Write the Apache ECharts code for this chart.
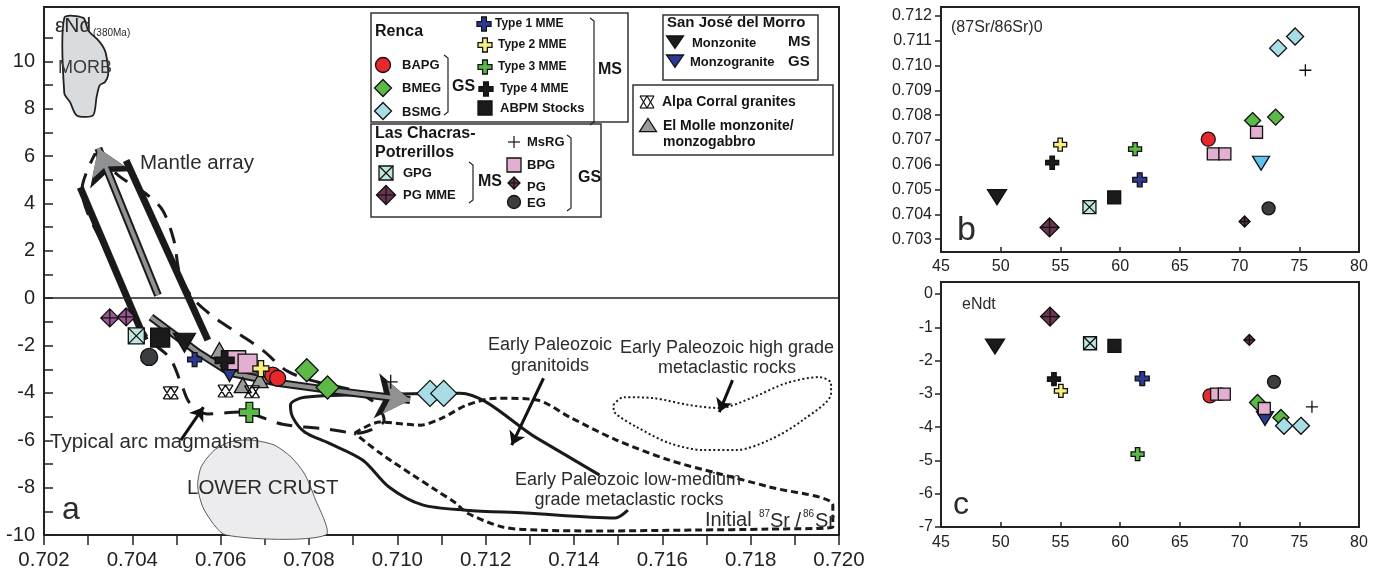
<!DOCTYPE html>
<html>
<head>
<meta charset="utf-8">
<script src="https://cdn.jsdelivr.net/npm/echarts@6/dist/echarts.min.js"></script>
<style>
html, body { margin: 0; padding: 0; background: #fff; }
#chart { width: 1380px; height: 577px; }
</style>
</head>
<body>
<div id="chart"></div>
<script>
var FONT = '"Liberation Sans", Arial, Helvetica, sans-serif';

// ---- tick labels
var xTicksA = [0.702, 0.703, 0.704, 0.705, 0.706, 0.707, 0.708, 0.709, 0.710, 0.711, 0.712, 0.713, 0.714, 0.715, 0.716, 0.717, 0.718, 0.719, 0.720];
var xLabelsA = [0.702, 0.704, 0.706, 0.708, 0.710, 0.712, 0.714, 0.716, 0.718, 0.720];
var yTicksA = [-10, -9, -8, -7, -6, -5, -4, -3, -2, -1, 0, 1, 2, 3, 4, 5, 6, 7, 8, 9, 10, 11];
var yLabelsA = [-10, -8, -6, -4, -2, 0, 2, 4, 6, 8, 10];
var xTicksBC = [45, 50, 55, 60, 65, 70, 75, 80];
var yTicksB = [0.703, 0.704, 0.705, 0.706, 0.707, 0.708, 0.709, 0.710, 0.711, 0.712];
var yTicksC = [-7, -6, -5, -4, -3, -2, -1, 0];

// ---- panel a : initial 87Sr/86Sr vs eNd(380Ma)
var bapgA = [[0.70718, -3.25], [0.70729, -3.38]];
var bmegA = [[0.70795, -3.04], [0.70842, -3.77]];
var bsmgA = [[0.71074, -4.02], [0.71105, -4.02]];
var type1A = [[0.70541, -2.59]];
var type2A = [[0.70691, -2.97]];
var type3A = [[0.70665, -4.82]];
var type4A = [[0.70609, -2.62]];
var abpmA = [[0.70463, -1.66]];
var gpgA = [[0.70409, -1.59]];
var pgmmeA = [[0.70349, -0.83], [0.70386, -0.79]];
var msrgA = [[0.70985, -3.53]];
var bpgA = [[0.70635, -2.62], [0.70661, -2.76]];
var pgA = [];
var egA = [[0.70438, -2.48]];
var monzoniteA = [[0.70518, -1.88]];
var monzograniteA = [[0.7062, -3.18]];
var alpaA = [[0.70487, -4.0], [0.70611, -3.92], [0.70671, -3.95]];
var elmolleA = [[0.70597, -2.19], [0.7065, -3.67], [0.70688, -3.46]];

// ---- panel b : SiO2 vs (87Sr/86Sr)0
var bapgB = [[67.38, 0.70703]];
var bmegB = [[71.09, 0.70778], [73.02, 0.70792]];
var bsmgB = [[73.23, 0.7107], [74.65, 0.71117]];
var type1B = [[61.64, 0.70539]];
var type2B = [[54.98, 0.70681]];
var type3B = [[61.25, 0.70663]];
var type4B = [[54.31, 0.70608]];
var abpmB = [[59.5, 0.70468]];
var gpgB = [[57.43, 0.70429]];
var pgmmeB = [[54.09, 0.70347]];
var msrgB = [[75.51, 0.70981]];
var bpgB = [[67.8, 0.70644], [68.77, 0.70644], [71.42, 0.70731]];
var pgB = [[70.42, 0.70371]];
var egB = [[72.43, 0.70424]];
var monzoniteB = [[49.69, 0.70469]];
var monzograniteB = [[71.8, 0.70606]];

// ---- panel c : SiO2 vs eNdt
var bapgC = [[67.52, -3.06]];
var bmegC = [[71.5, -3.26], [73.46, -3.71]];
var bsmgC = [[73.72, -3.96], [75.14, -3.96]];
var type1C = [[61.85, -2.54]];
var type2C = [[55.04, -2.91]];
var type3C = [[61.46, -4.81]];
var type4C = [[54.46, -2.56]];
var abpmC = [[59.52, -1.56]];
var gpgC = [[57.48, -1.48]];
var pgmmeC = [[54.13, -0.68]];
var msrgC = [[76.06, -3.39]];
var bpgC = [[68.08, -3.01], [68.72, -3.01], [72.07, -3.44]];
var pgC = [[70.82, -1.38]];
var egC = [[72.88, -2.64]];
var monzoniteC = [[49.52, -1.58]];
var monzograniteC = [[72.13, -3.74]];

// ---- fields and trends drawn in panel a (Sr ratio, eNd)
var morbField = [[0.70246, 11.84], [0.70289, 11.84], [0.703, 11.31], [0.70323, 10.89], [0.70338, 10.46], [0.70344, 9.9], [0.70345, 9.41], [0.70338, 9.13], [0.70326, 8.99], [0.70319, 8.49], [0.70311, 7.72], [0.70274, 7.72], [0.70259, 8.28], [0.70246, 8.65]];
var lowerCrust = [[0.70612, -10], [0.70563, -8.95], [0.70548, -7.96], [0.70556, -7.12], [0.70586, -6.41], [0.70623, -6.06], [0.70669, -5.99], [0.70721, -6.2], [0.70759, -6.7], [0.70789, -7.39], [0.70812, -8.38], [0.70838, -10]];
var arcField = [[0.70316, 6.12], [0.70368, 5.19], [0.70435, 4.35], [0.70469, 3.71], [0.70494, 2.45], [0.70508, 0.97], [0.70537, 0], [0.70582, -0.76], [0.70639, -1.48], [0.70695, -2.19], [0.70751, -3.08], [0.70819, -3.54], [0.70903, -3.92], [0.70955, -4.51], [0.7097, -5.15], [0.70909, -5.7], [0.70842, -5.53], [0.7074, -5.32], [0.70645, -4.81], [0.70571, -4.89], [0.7053, -4.43], [0.70512, -3.67], [0.70485, -2.53], [0.70432, -1.6], [0.70355, 1.5], [0.70286, 4.6], [0.70316, 6.12]];
var granitoidField = [[0.71458, -7.47], [0.71316, -5.91], [0.71142, -4.01], [0.70997, -4.05], [0.7079, -4.18], [0.70758, -4.51], [0.70763, -5.02], [0.7079, -5.65], [0.70845, -6.12], [0.70922, -6.84], [0.70981, -7.97], [0.71057, -8.73], [0.71155, -8.95], [0.7129, -9.07], [0.71493, -9.28], [0.71522, -8.95]];
var lowGradeField = [[0.70903, -5.7], [0.70961, -5.23], [0.71052, -5.36], [0.71101, -5.06], [0.71158, -4.51], [0.71225, -4.22], [0.71316, -4.3], [0.7139, -5.02], [0.71496, -5.99], [0.71616, -6.84], [0.71722, -7.38], [0.71842, -7.97], [0.71986, -8.73], [0.71986, -9.66], [0.71842, -9.75], [0.71674, -9.79], [0.71451, -9.83], [0.71316, -9.79], [0.71238, -9.66], [0.71158, -9.07], [0.71132, -8.65], [0.71087, -8.1], [0.71035, -7.47], [0.70961, -6.54], [0.70903, -5.7]];
var highGradeField = [[0.71489, -4.51], [0.71512, -4.18], [0.7158, -4.22], [0.71661, -4.51], [0.71729, -4.64], [0.71806, -4.18], [0.7188, -3.59], [0.71955, -3.33], [0.71982, -3.59], [0.71982, -4.01], [0.71918, -5.15], [0.71842, -5.99], [0.71767, -6.41], [0.71693, -6.41], [0.71616, -6.12], [0.71542, -5.44], [0.71493, -4.85], [0.71489, -4.51]];
var mantleLeft = [[0.70282, 4.68], [0.70429, -1.77]];
var mantleRight = [[0.70386, 5.82], [0.70571, -1.77]];
var mantleArrow = [[0.70458, 0.13], [0.70323, 6.33]];
var crustArrow = [[0.70442, -0.8], [0.70548, -2.28], [0.70623, -3.16], [0.70736, -3.59], [0.70848, -3.88], [0.71029, -4.3]];
var arcPointer = [[0.7051, -5.99], [0.70561, -4.6]];
var granitoidPointer = [[0.71331, -3.38], [0.71259, -6.2]];
var highGradePointer = [[0.71759, -3.46], [0.71729, -4.81]];

// symbol outlines, unit box 100
var P = {
    circle: 'M50,0A50,50,0,1,1,49.99,0Z',
    diamond: 'M50,0L100,50L50,100L0,50Z',
    square: 'M0,0H100V100H0Z',
    cross: 'M33,0H67V33H100V67H67V100H33V67H0V33H33Z',
    triDown: 'M0,0H100L50,88Z',
    triUp: 'M50,0L100,88H0Z',
    sqx: 'M0,0H100V100H0Z M0,0L100,100 M100,0L0,100',
    diaPlus: 'M50,0L100,50L50,100L0,50Z M50,0V100 M0,50H100',
    plus: 'M50,0V100 M0,50H100',
    hour: 'M0,0H100M0,100H100M0,0L50,100M50,0L0,100M50,0L100,100M100,0L50,100'
};

var kinds = [
    { path: P.triUp, fill: '#9a9b9d', a: elmolleA, sa: [17, 15] },
    { path: P.hour, fill: '#ffffff', a: alpaA, sa: [15, 12] },
    { path: P.triDown, fill: '#1b1b1d', a: monzoniteA, b: monzoniteB, c: monzoniteC, sa: [22, 19], sb: [19, 15] },
    { path: P.diamond, fill: '#5cb847', a: bmegA, b: bmegB, c: bmegC, sa: 23, sb: 16 },
    { path: P.triDown, fill: '#2d3a94', fillB: '#5fc3ee', a: monzograniteA, b: monzograniteB, c: monzograniteC, sa: [18, 16], sb: [17, 14] },
    { path: P.circle, fill: '#e8282a', a: bapgA, b: bapgB, c: bapgC, sa: 16, sb: 14 },
    { path: P.square, fill: '#e3afd1', a: bpgA, b: bpgB, c: bpgC, sa: 19, sb: 12 },
    { path: P.diaPlus, fill: '#6b3452', a: pgA, b: pgB, c: pgC, sa: 12, sb: 11 },
    { path: P.circle, fill: '#3b3e41', a: egA, b: egB, c: egC, sa: 17, sb: 13 },
    { path: P.sqx, fill: '#bfe7e0', a: gpgA, b: gpgB, c: gpgC, sa: 16, sb: 13 },
    { path: P.diaPlus, fill: '#6b3452', fillA: '#9d5595', a: pgmmeA, b: pgmmeB, c: pgmmeC, sa: 18, sb: 19 },
    { path: P.square, fill: '#1b1b1d', a: abpmA, b: abpmB, c: abpmC, sa: 19, sb: 13 },
    { path: P.cross, fill: '#1b1b1d', a: type4A, b: type4B, c: type4C, sa: 19, sb: 13 },
    { path: P.cross, fill: '#2d3a94', a: type1A, b: type1B, c: type1C, sa: 14, sb: 14 },
    { path: P.cross, fill: '#f7f07e', a: type2A, b: type2B, c: type2C, sa: 16, sb: 13 },
    { path: P.cross, fill: '#5cb847', a: type3A, b: type3B, c: type3C, sa: 20, sb: 13 },
    { path: P.diamond, fill: '#a8dde5', a: bsmgA, b: bsmgB, c: bsmgC, sa: 26, sb: 17 },
    { path: P.plus, fill: '#111111', a: msrgA, b: msrgB, c: msrgC, sa: 14, sb: 12 }
];

function scatter(k, data, grid, size, fill) {
    return {
        type: 'scatter', xAxisIndex: grid, yAxisIndex: grid, data: data,
        symbol: 'path://' + k.path, symbolSize: size, z: 6, silent: true,
        itemStyle: { color: fill, borderColor: '#111', borderWidth: 1.3, opacity: 1 }
    };
}

function outline(data, width, type, smooth, z) {
    return {
        type: 'line', xAxisIndex: 0, yAxisIndex: 0, data: data, symbol: 'none', smooth: smooth, z: z || 3,
        silent: true, lineStyle: { color: '#1a1a1a', width: width, type: type }
    };
}

function field(data, fill, stroke, width) {
    return {
        type: 'custom', xAxisIndex: 0, yAxisIndex: 0, data: [0], z: 1, silent: true,
        renderItem: function (params, api) {
            var pts = data.map(function (p) { return api.coord(p); });
            return { type: 'polygon', shape: { points: pts, smooth: 0.25 }, style: { fill: fill, stroke: stroke, lineWidth: width } };
        }
    };
}

function arrows(list, color, width, size, z) {
    return {
        type: 'lines', coordinateSystem: 'cartesian2d', xAxisIndex: 0, yAxisIndex: 0, z: z, silent: true,
        symbol: ['none', 'arrow'], symbolSize: size,
        lineStyle: { color: color, width: width, opacity: 1, curveness: 0 },
        data: list.map(function (c) { return { coords: c }; })
    };
}

var crustHead = crustArrow.slice(crustArrow.length - 2);
var crustShaft = crustArrow.slice(0, crustArrow.length - 1);

var series = [
    field(morbField, '#d9dcde', '#222', 1.8),
    field(lowerCrust, '#ececee', '#333', 0.8),
    outline(arcField, 3, [16, 11], 0.3),
    outline(granitoidField, 3, 'solid', 0.3),
    outline(lowGradeField, 3, [7, 4], 0.3),
    outline(highGradeField, 2, [2, 2.5], 0.3),
    {
        type: 'line', xAxisIndex: 0, yAxisIndex: 0, data: mantleLeft, symbol: 'none', z: 4, silent: true,
        lineStyle: { color: '#1a1a1a', width: 7 },
        markLine: {
            silent: true, symbol: 'none', label: { show: false },
            lineStyle: { color: '#222', width: 1.5, type: 'solid' },
            data: [{ xAxis: 0.7047 }, { yAxis: 0 }]
        }
    },
    outline(mantleRight, 7, 'solid', false, 4),
    outline(crustShaft, 8, 'solid', false, 4),
    {
        type: 'line', xAxisIndex: 0, yAxisIndex: 0, data: crustShaft, symbol: 'none', z: 5, silent: true,
        lineStyle: { color: '#8f9193', width: 4 }
    },
    arrows([mantleArrow, crustHead], '#1a1a1a', 8, 34, 4),
    arrows([mantleArrow, crustHead], '#8f9193', 4, 26, 5),
    arrows([arcPointer, granitoidPointer, highGradePointer], '#111', 3, 13, 4)
];

kinds.forEach(function (k) {
    if (k.a && k.a.length) series.push(scatter(k, k.a, 0, k.sa, k.fillA || k.fill));
    if (k.b) series.push(scatter(k, k.b, 1, k.sb, k.fillB || k.fill));
    if (k.c) series.push(scatter(k, k.c, 2, k.sb, k.fill));
});

// ---- legend boxes and annotations
function txt(s, x, y, size, bold, align, color) {
    return {
        type: 'text', x: x, y: y, z: 101, silent: true,
        style: {
            text: s, font: (bold ? 'bold ' : '') + size + 'px ' + FONT, fill: color || '#151515',
            align: align || 'left', verticalAlign: 'middle', textAlign: align || 'left', textVerticalAlign: 'middle'
        }
    };
}
// legend marker built from primitive graphic shapes (unit box 0..1)
var UNIT = {
    diamond: [[0.5, 0], [1, 0.5], [0.5, 1], [0, 0.5]],
    square: [[0, 0], [1, 0], [1, 1], [0, 1]],
    cross: [[0.33, 0], [0.67, 0], [0.67, 0.33], [1, 0.33], [1, 0.67], [0.67, 0.67], [0.67, 1], [0.33, 1], [0.33, 0.67], [0, 0.67], [0, 0.33], [0.33, 0.33]],
    triDown: [[0, 0], [1, 0], [0.5, 0.88]],
    triUp: [[0.5, 0], [1, 0.88], [0, 0.88]]
};
function sym(kind, fill, cx, cy, w, h) {
    var x0 = cx - w / 2, y0 = cy - h / 2;
    var st = { fill: fill, stroke: '#111', lineWidth: 1.3 };
    function map(list) { return list.map(function (p) { return [x0 + p[0] * w, y0 + p[1] * h]; }); }
    function seg(a, b) { return { type: 'line', z: 102, silent: true, shape: { x1: x0 + a[0] * w, y1: y0 + a[1] * h, x2: x0 + b[0] * w, y2: y0 + b[1] * h }, style: { stroke: '#111', lineWidth: 1.2 } }; }
    var out = [];
    if (kind === 'circle') out.push({ type: 'circle', z: 101, silent: true, shape: { cx: cx, cy: cy, r: w / 2 }, style: st });
    if (UNIT[kind]) out.push({ type: 'polygon', z: 101, silent: true, shape: { points: map(UNIT[kind]) }, style: st });
    if (kind === 'sqx') {
        out.push({ type: 'polygon', z: 101, silent: true, shape: { points: map(UNIT.square) }, style: st });
        out.push(seg([0, 0], [1, 1]), seg([1, 0], [0, 1]));
    }
    if (kind === 'diaPlus') {
        out.push({ type: 'polygon', z: 101, silent: true, shape: { points: map(UNIT.diamond) }, style: st });
        out.push(seg([0.5, 0], [0.5, 1]), seg([0, 0.5], [1, 0.5]));
    }
    if (kind === 'plus') out.push(seg([0.5, 0], [0.5, 1]), seg([0, 0.5], [1, 0.5]));
    if (kind === 'hour') {
        out.push(seg([0, 0], [1, 0]), seg([0, 1], [1, 1]), seg([0, 0], [0.5, 1]), seg([0.5, 0], [0, 1]), seg([0.5, 0], [1, 1]), seg([1, 0], [0.5, 1]));
    }
    return out;
}
function box(x, y, w, h) {
    return { type: 'rect', z: 100, silent: true, shape: { x: x, y: y, width: w, height: h }, style: { fill: '#fff', stroke: '#333', lineWidth: 1.5 } };
}
function bracket(x, y1, y2) {
    return {
        type: 'polyline', z: 101, silent: true,
        shape: { points: [[x - 4, y1], [x, y1 + 3], [x, y2 - 3], [x - 4, y2]] },
        style: { stroke: '#222', lineWidth: 1.2, fill: null }
    };
}

var ann = '#2b2b2b';
var graphic = [].concat(
    box(371, 13, 257, 109), box(371, 124, 230, 93), box(663, 15, 155, 65), box(633, 85, 200, 70),
    txt('Renca', 375, 32, 16, true),
    sym('circle', '#e8282a', 383, 65, 15, 15), txt('BAPG', 402, 65, 13, true),
    sym('diamond', '#5cb847', 383, 88, 17, 17), txt('BMEG', 402, 88, 13, true),
    sym('diamond', '#a8dde5', 383, 111, 17, 17), txt('BSMG', 402, 112, 13, true),
    bracket(448, 55, 115), txt('GS', 452, 87, 16, true),
    sym('cross', '#2d3a94', 484, 24, 14, 14), txt('Type 1 MME', 495, 24, 12, true),
    sym('cross', '#f7f07e', 485, 45, 14, 14), txt('Type 2 MME', 498, 45, 12, true),
    sym('cross', '#5cb847', 485, 67, 14, 14), txt('Type 3 MME', 498, 67, 12, true),
    sym('cross', '#1b1b1d', 486, 89, 14, 14), txt('Type 4 MME', 500, 89, 12, true),
    sym('square', '#1b1b1d', 485, 108, 14, 14), txt('ABPM Stocks', 500, 108, 13, true),
    bracket(594, 18, 125), txt('MS', 598, 70, 16, true),
    txt('Las Chacras-', 375, 134, 16, true), txt('Potrerillos', 375, 153, 16, true),
    sym('sqx', '#bfe7e0', 386, 173, 14, 14), txt('GPG', 403, 173, 13, true),
    sym('diaPlus', '#6b3452', 386, 195, 19, 19), txt('PG MME', 403, 195, 13, true),
    bracket(473, 162, 203), txt('MS', 478, 182, 16, true),
    sym('plus', '#111', 514, 142, 12, 12), txt('MsRG', 527, 142, 13, true),
    sym('square', '#e3afd1', 514, 165, 14, 14), txt('BPG', 527, 165, 13, true),
    sym('diaPlus', '#6b3452', 514, 183, 12, 12), txt('PG', 527, 187, 13, true),
    sym('circle', '#3b3e41', 514, 202, 13, 13), txt('EG', 527, 203, 13, true),
    bracket(571, 135, 211), txt('GS', 578, 178, 16, true),
    txt('San José del Morro', 667, 23, 15, true),
    sym('triDown', '#1b1b1d', 675, 43, 17, 14), txt('Monzonite', 692, 43, 13, true), txt('MS', 788, 42, 15, true),
    sym('triDown', '#2d3a94', 675, 62, 17, 14), txt('Monzogranite', 690, 62, 13, true), txt('GS', 788, 62, 15, true),
    sym('hour', '#fff', 647, 102, 14, 12), txt('Alpa Corral granites', 662, 102, 14, true),
    sym('triUp', '#9a9b9d', 648, 126, 17, 15), txt('El Molle monzonite/', 663, 126, 14, true), txt('monzogabbro', 663, 142, 14, true),

    txt('εNd', 55, 26, 21, false, 'left', ann), txt('(380Ma)', 93, 33, 10, false, 'left', ann),
    txt('MORB', 58, 68, 18, false, 'left', '#3a3a3a'),
    txt('Mantle array', 140, 163, 20.5, false, 'left', ann),
    txt('Typical arc magmatism', 50, 442, 20.5, false, 'left', ann),
    txt('LOWER CRUST', 187, 488, 20.5, false, 'left', ann),
    txt('a', 62, 510, 32, false, 'left', ann),
    txt('Early Paleozoic', 550, 345, 18, false, 'center', ann), txt('granitoids', 550, 366, 18, false, 'center', ann),
    txt('Early Paleozoic high grade', 727, 348, 18, false, 'center', ann), txt('metaclastic rocks', 727, 368, 18, false, 'center', ann),
    txt('Early Paleozoic low-medium', 628, 480, 18, false, 'center', ann), txt('grade metaclastic rocks', 629, 500, 18, false, 'center', ann),
    txt('Initial', 705, 520, 20, false, 'left', ann), txt('87', 759, 514, 10, false, 'left', ann),
    txt('Sr /', 770, 521, 20, false, 'left', ann), txt('86', 803, 514, 10, false, 'left', ann), txt('Sr', 815, 521, 20, false, 'left', ann),

    txt('(87Sr/86Sr)0', 951, 28, 16, false, 'left', ann),
    txt('b', 957, 231, 34, false, 'left', ann),
    txt('eNdt', 962, 305, 16, false, 'left', ann),
    txt('c', 953, 505, 32, false, 'left', ann)
);

function axisX(grid, min, max, extra) {
    var ax = {
        gridIndex: grid, type: 'value', min: min, max: max,
        axisLine: { show: true, onZero: false, lineStyle: { color: '#222', width: 2 } },
        axisTick: { show: true, lineStyle: { color: '#222', width: 1.5 } },
        axisLabel: { color: '#222', fontFamily: FONT, showMinLabel: true, showMaxLabel: true, hideOverlap: false },
        splitLine: { show: false }
    };
    Object.keys(extra).forEach(function (k) { Object.assign(ax[k] || (ax[k] = {}), extra[k]); });
    return ax;
}

var option = {
    animation: false,
    grid: [
        { left: 44, top: 7, width: 795, height: 528, show: true, borderColor: '#222', borderWidth: 2, backgroundColor: 'transparent' },
        { left: 941, top: 7, width: 418, height: 245, show: true, borderColor: '#222', borderWidth: 2, backgroundColor: 'transparent' },
        { left: 941, top: 282, width: 418, height: 245, show: true, borderColor: '#222', borderWidth: 2, backgroundColor: 'transparent' }
    ],
    xAxis: [
        axisX(0, 0.702, 0.720, {
            axisTick: { inside: false, length: 10, customValues: xTicksA },
            axisLabel: { customValues: xLabelsA, fontSize: 20.5, margin: 15, formatter: function (v) { return v.toFixed(3); } }
        }),
        axisX(1, 45, 80, {
            axisTick: { inside: true, length: 5, customValues: xTicksBC },
            axisLabel: { customValues: xTicksBC, interval: 0, fontSize: 16, margin: 7 }
        }),
        axisX(2, 45, 80, {
            axisTick: { inside: true, length: 5, customValues: xTicksBC },
            axisLabel: { customValues: xTicksBC, interval: 0, fontSize: 16, margin: 8 }
        })
    ],
    yAxis: [
        axisX(0, -10, 12.3, {
            axisTick: { inside: true, length: 9, customValues: yTicksA },
            axisLabel: { customValues: yLabelsA, fontSize: 20, margin: 9 }
        }),
        axisX(1, 0.70248, 0.71236, {
            axisTick: { inside: false, length: 6, customValues: yTicksB },
            axisLabel: { customValues: yTicksB, fontSize: 16, margin: 9, formatter: function (v) { return v.toFixed(3); } }
        }),
        axisX(2, -7, 0.36, {
            axisTick: { inside: false, length: 6, customValues: yTicksC },
            axisLabel: { customValues: yTicksC, fontSize: 16, margin: 8 }
        })
    ],
    series: series,
    graphic: graphic
};

var chart = echarts.init(document.getElementById('chart'));
chart.setOption(option);
</script>
</body>
</html>
